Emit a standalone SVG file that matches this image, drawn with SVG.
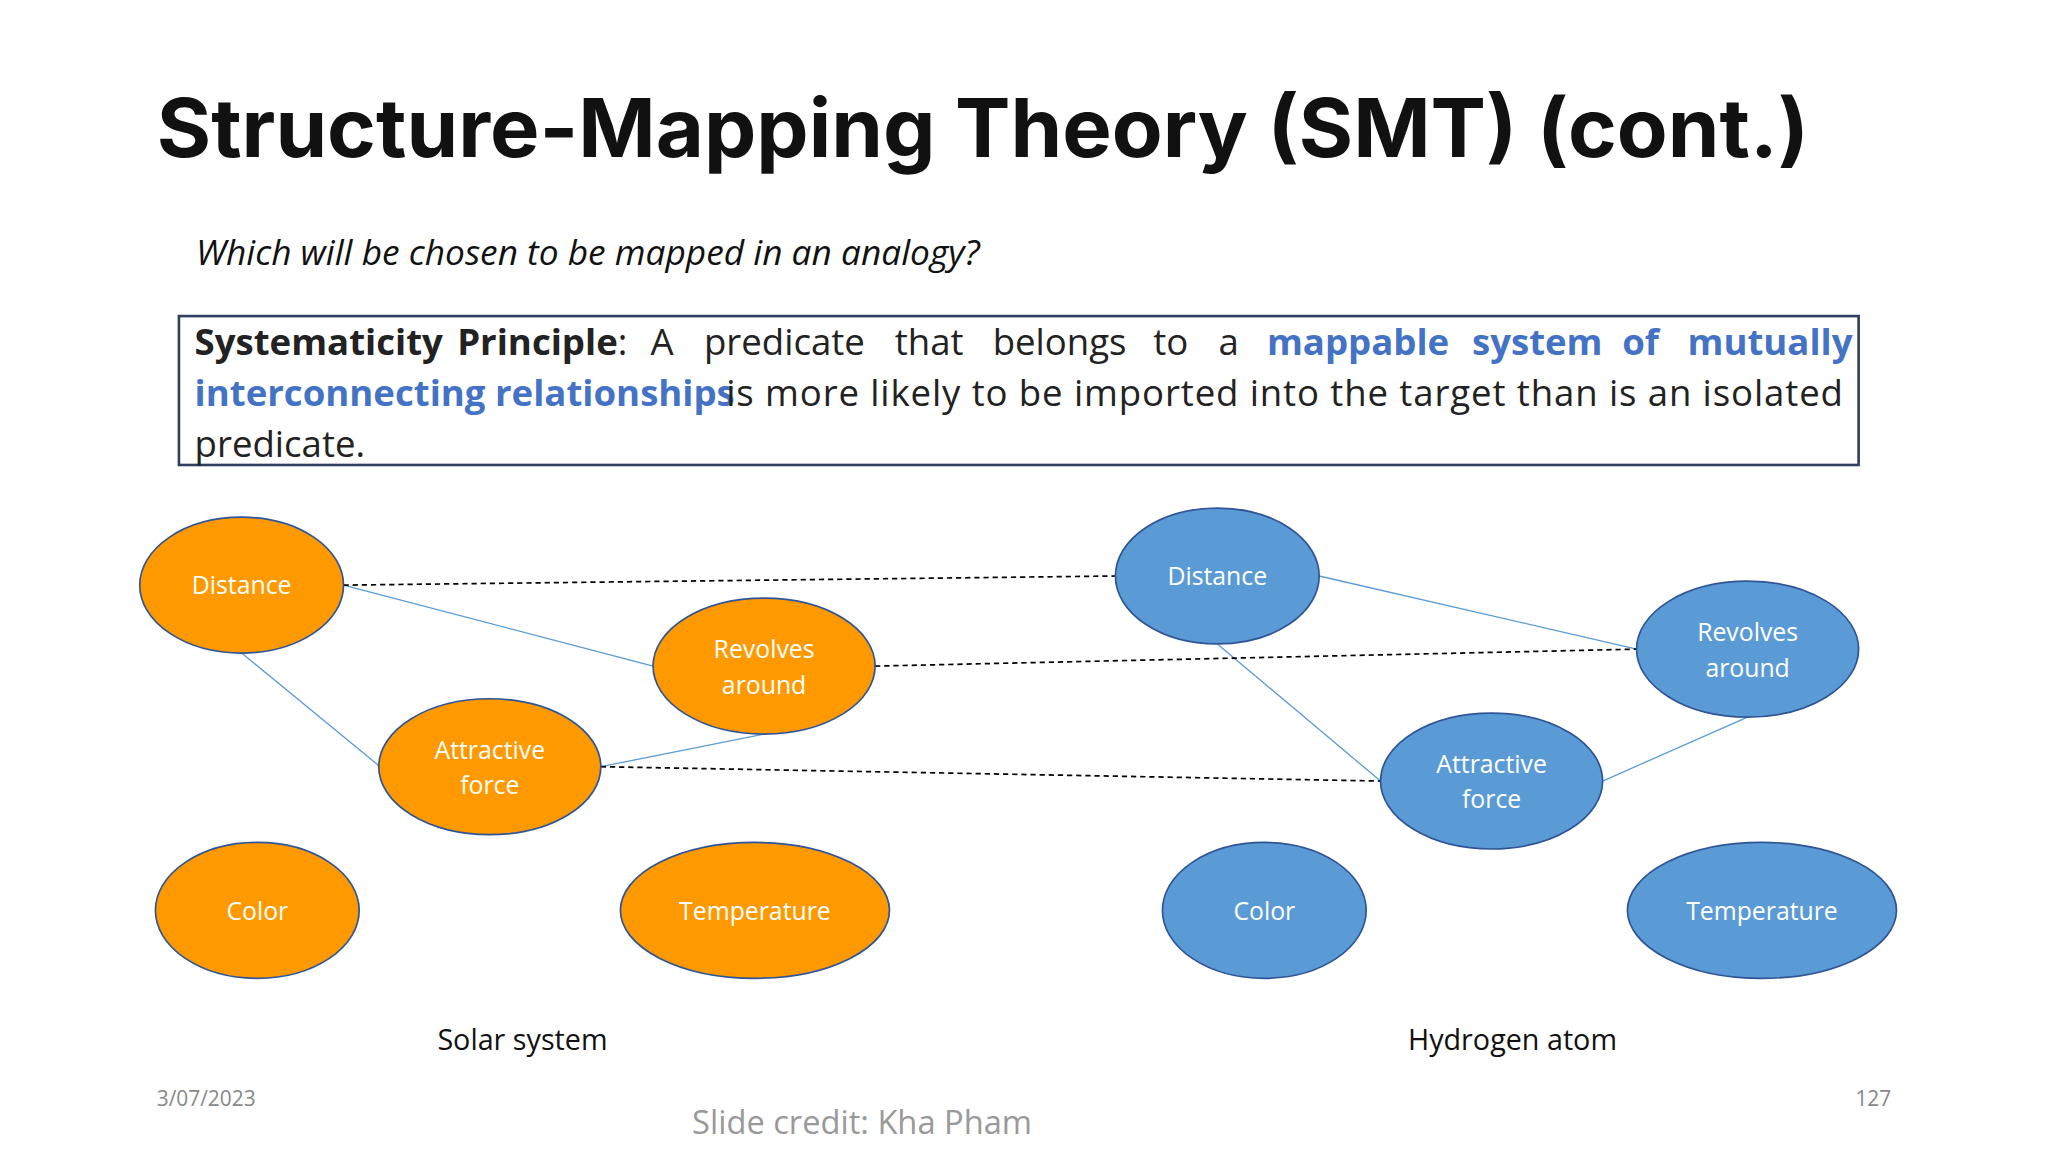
<svg xmlns="http://www.w3.org/2000/svg" width="2048" height="1152" viewBox="0 0 2048 1152">
<style>
.o{fill:#ff9900;stroke:#2f5597;stroke-width:1.3}
.b{fill:#5b9bd5;stroke:#2f5597;stroke-width:1.3}
.nl{font-family:"Open Sans",sans-serif;font-size:19px;fill:#fff;text-anchor:middle}
.s{stroke:#5b9bd5;stroke-width:1;fill:none}
.d{stroke:#000;stroke-width:1.3;stroke-dasharray:4,3;fill:none}
.p{font-family:"Open Sans",sans-serif;font-size:28px;fill:#222}
.bb{font-weight:bold}
.bl{font-weight:bold;fill:#4472c4}
</style>
<rect width="2048" height="1152" fill="#fff"/>
<g transform="scale(1.30612)">
<text x="120" y="120" font-family="Inter,sans-serif" font-weight="bold" font-size="62" textLength="1265" lengthAdjust="spacingAndGlyphs" fill="#111">Structure-Mapping Theory (SMT) (cont.)</text>
<text x="150" y="203" font-family="Open Sans,sans-serif" font-style="italic" font-size="27" fill="#111">Which will be chosen to be mapped in an analogy?</text>
<rect x="137" y="242" width="1286" height="114" fill="none" stroke="#2f3f5f" stroke-width="2"/>
<text class="p" y="272"><tspan x="149" class="bb">Systematicity</tspan><tspan x="350" class="bb">Principle</tspan><tspan>:</tspan><tspan x="498">A</tspan><tspan x="539">predicate</tspan><tspan x="685">that</tspan><tspan x="760">belongs</tspan><tspan x="883">to</tspan><tspan x="933">a</tspan><tspan x="970" class="bl">mappable</tspan><tspan x="1127" class="bl">system</tspan><tspan x="1242" class="bl">of</tspan><tspan x="1292" class="bl">mutually</tspan></text>
<text class="p" y="311"><tspan x="149" class="bl">interconnecting relationships</tspan></text>
<text class="p" x="556" y="311" textLength="855">is more likely to be imported into the target than is an isolated</text>
<text class="p" x="149" y="350">predicate.</text>
<g id="connectors">
<line class="s" x1="263" y1="448" x2="500" y2="510"/>
<line class="s" x1="185" y1="500" x2="291" y2="587"/>
<line class="s" x1="460" y1="587" x2="585" y2="562"/>
<line class="s" x1="1010" y1="441" x2="1253" y2="497"/>
<line class="s" x1="932" y1="493" x2="1057" y2="598"/>
<line class="s" x1="1227" y1="598" x2="1338" y2="549"/>
<line class="d" x1="263" y1="448" x2="854" y2="441"/>
<line class="d" x1="670" y1="510" x2="1253" y2="497"/>
<line class="d" x1="460" y1="587" x2="1057" y2="598"/>
</g>
<g id="s-distance"><ellipse class="o" cx="185" cy="448" rx="78" ry="52"/><text class="nl" x="185" y="455">Distance</text></g>
<g id="s-revolves"><ellipse class="o" cx="585" cy="510" rx="85" ry="52"/><text class="nl" x="585" y="504">Revolves</text><text class="nl" x="585" y="531">around</text></g>
<g id="s-attractive"><ellipse class="o" cx="375" cy="587" rx="85" ry="52"/><text class="nl" x="375" y="581">Attractive</text><text class="nl" x="375" y="608">force</text></g>
<g id="s-color"><ellipse class="o" cx="197" cy="697" rx="78" ry="52"/><text class="nl" x="197" y="704">Color</text></g>
<g id="s-temp"><ellipse class="o" cx="578" cy="697" rx="103" ry="52"/><text class="nl" x="578" y="704">Temperature</text></g>
<g id="h-distance"><ellipse class="b" cx="932" cy="441" rx="78" ry="52"/><text class="nl" x="932" y="448">Distance</text></g>
<g id="h-revolves"><ellipse class="b" cx="1338" cy="497" rx="85" ry="52"/><text class="nl" x="1338" y="491">Revolves</text><text class="nl" x="1338" y="518">around</text></g>
<g id="h-attractive"><ellipse class="b" cx="1142" cy="598" rx="85" ry="52"/><text class="nl" x="1142" y="592">Attractive</text><text class="nl" x="1142" y="619">force</text></g>
<g id="h-color"><ellipse class="b" cx="968" cy="697" rx="78" ry="52"/><text class="nl" x="968" y="704">Color</text></g>
<g id="h-temp"><ellipse class="b" cx="1349" cy="697" rx="103" ry="52"/><text class="nl" x="1349" y="704">Temperature</text></g>
<text x="400" y="804" font-family="Open Sans,sans-serif" font-size="22" fill="#111" text-anchor="middle">Solar system</text>
<text x="1158" y="804" font-family="Open Sans,sans-serif" font-size="22" fill="#111" text-anchor="middle">Hydrogen atom</text>
<text x="120" y="847" font-family="Open Sans,sans-serif" font-size="16" fill="#888">3/07/2023</text>
<text x="1448" y="847" font-family="Open Sans,sans-serif" font-size="16" fill="#888" text-anchor="end">127</text>
<text x="660" y="868" font-family="Open Sans,sans-serif" font-size="25" fill="#999" text-anchor="middle">Slide credit: Kha Pham</text>
</g>
</svg>
